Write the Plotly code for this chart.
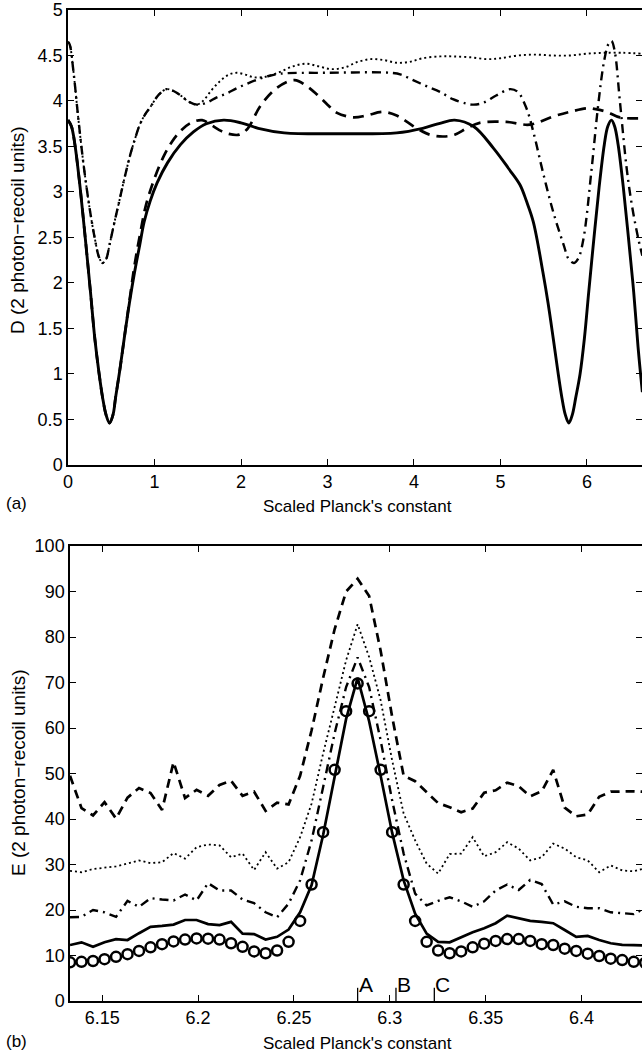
import math
import plotly.graph_objects as go

# ---------------- Panel (a) data ----------------
a_solid_x = [0, 0.04, 0.08, 0.14, 0.2, 0.26, 0.31, 0.36, 0.40, 0.44, 0.48, 0.52, 0.55, 0.60, 0.65, 0.71, 0.77,
             0.83, 0.88, 0.95, 1.03, 1.15, 1.3, 1.45, 1.6, 1.8, 2.0, 2.2, 2.5, 3.14, 3.8, 4.1, 4.3, 4.47, 4.69,
             4.92, 5.1, 5.225, 5.3, 5.38, 5.49, 5.55, 5.61, 5.66, 5.71, 5.75, 5.79, 5.83, 5.87, 5.92, 5.97,
             6.02, 6.08, 6.14, 6.2, 6.24, 6.283, 6.32, 6.36, 6.42, 6.48, 6.54, 6.59, 6.64]
a_solid_y = [3.79, 3.72, 3.52, 3.05, 2.49, 1.9, 1.39, 1.0, 0.74, 0.55, 0.46, 0.55, 0.74, 1.05, 1.39, 1.78, 2.12,
             2.42, 2.67, 2.9, 3.1, 3.32, 3.52, 3.66, 3.75, 3.79, 3.76, 3.70, 3.65, 3.64, 3.65, 3.70, 3.755, 3.79,
             3.72, 3.48, 3.25, 3.08, 2.9, 2.67, 2.12, 1.78, 1.39, 1.05, 0.74, 0.55, 0.46, 0.55, 0.74, 1.0, 1.39,
             1.9, 2.49, 3.05, 3.52, 3.72, 3.79, 3.72, 3.52, 3.05, 2.49, 1.9, 1.3, 0.8]

a_dash_x = [0, 0.04, 0.08, 0.14, 0.2, 0.26, 0.31, 0.36, 0.40, 0.44, 0.48, 0.52, 0.55, 0.60, 0.65, 0.71, 0.77,
            0.83, 0.9, 1.0, 1.1, 1.2, 1.3, 1.42, 1.55, 1.65, 1.75, 1.85, 1.98, 2.08, 2.22, 2.41, 2.62, 2.75,
            2.88, 3.0, 3.11, 3.3, 3.45, 3.64, 3.8, 3.92, 4.05, 4.18, 4.34, 4.47, 4.61, 4.76, 5.07, 5.34, 5.61,
            5.8, 6.0, 6.1, 6.23, 6.38, 6.64]
a_dash_y = [3.79, 3.72, 3.52, 3.05, 2.49, 1.9, 1.39, 1.0, 0.74, 0.55, 0.46, 0.55, 0.74, 1.05, 1.39, 1.8, 2.2,
            2.52, 2.85, 3.15, 3.38, 3.55, 3.67, 3.76, 3.79, 3.74, 3.68, 3.64, 3.63, 3.7, 3.94, 4.14, 4.23, 4.17,
            4.07, 3.96, 3.87, 3.82, 3.84, 3.88, 3.84, 3.77, 3.69, 3.63, 3.61, 3.63, 3.7, 3.76, 3.77, 3.74, 3.83,
            3.88, 3.92, 3.91, 3.88, 3.82, 3.81]

a_dashdot_x = [0, 0.02, 0.06, 0.12, 0.18, 0.25, 0.31, 0.36, 0.40, 0.44, 0.48, 0.54, 0.60, 0.66, 0.72, 0.78,
               0.83, 0.89, 0.95, 1.05, 1.14, 1.22, 1.29, 1.4, 1.49, 1.6, 1.72, 1.83, 1.95, 2.07, 2.2, 2.3, 2.45,
               3.0, 3.72, 3.85, 3.99, 4.15, 4.30, 4.45, 4.61, 4.69, 4.8, 4.95, 5.11, 5.2, 5.3, 5.38, 5.49, 5.61,
               5.73, 5.79, 5.85, 5.9, 5.96, 6.05, 6.13, 6.2, 6.25, 6.283, 6.32, 6.38, 6.46, 6.52, 6.59, 6.64]
a_dashdot_y = [4.65, 4.62, 4.35, 3.8, 3.3, 2.82, 2.49, 2.28, 2.22, 2.26, 2.42, 2.68, 2.93, 3.18, 3.41, 3.6,
               3.74, 3.85, 3.93, 4.07, 4.13, 4.11, 4.07, 3.99, 3.96, 3.98, 4.04, 4.08, 4.14, 4.19, 4.24, 4.27, 4.3,
               4.31, 4.31, 4.29, 4.23, 4.16, 4.10, 4.02, 3.97, 3.96, 3.98, 4.06, 4.13, 4.1, 3.92, 3.66, 3.22, 2.78,
               2.42, 2.26, 2.22, 2.27, 2.49, 3.22, 3.96, 4.45, 4.63, 4.66, 4.55, 4.0, 3.25, 2.85, 2.5, 2.3]

a_dot_x = [0, 0.02, 0.06, 0.12, 0.18, 0.25, 0.31, 0.36, 0.40, 0.44, 0.48, 0.54, 0.60, 0.66, 0.72, 0.78, 0.83,
           0.89, 0.95, 1.05, 1.14, 1.22, 1.29, 1.4, 1.49, 1.56, 1.66, 1.76, 1.86, 1.95, 2.05, 2.15, 2.3, 2.45,
           2.6, 2.75, 2.9, 3.05, 3.2, 3.35, 3.5, 3.65, 3.8, 3.95, 4.1, 4.3, 4.45, 4.65, 4.85, 5.0, 5.2, 5.4,
           5.6, 5.8, 6.0, 6.2, 6.4, 6.64]
a_dot_y = [4.65, 4.62, 4.35, 3.8, 3.3, 2.82, 2.49, 2.28, 2.22, 2.26, 2.42, 2.68, 2.93, 3.18, 3.41, 3.6, 3.74,
           3.85, 3.93, 4.07, 4.13, 4.11, 4.07, 3.99, 3.96, 4.0, 4.12, 4.22, 4.29, 4.31, 4.29, 4.26, 4.27, 4.32,
           4.38, 4.41, 4.38, 4.35, 4.37, 4.43, 4.46, 4.45, 4.42, 4.43, 4.47, 4.49, 4.49, 4.48, 4.46, 4.47, 4.5,
           4.51, 4.5, 4.5, 4.52, 4.53, 4.53, 4.52]

a_xticks = [0, 1, 2, 3, 4, 5, 6]
a_yticks = [0, 0.5, 1, 1.5, 2, 2.5, 3, 3.5, 4, 4.5, 5]
a_ytext = ["0", "0.5", "1", "1.5", "2", "2.5", "3", "3.5", "4", "4.5", "5"]

# ---------------- Panel (b) data ----------------
b_x0 = 2 * math.pi - 0.15
b_step = 0.006
b_n = 51
b_x = [b_x0 + b_step * i for i in range(b_n)]

b_circles = [8.5, 8.6, 8.8, 9.2, 9.7, 10.3, 11.0, 11.8, 12.5, 13.1,
             13.5, 13.75, 13.7, 13.5, 12.7, 11.9, 10.9, 10.5, 11.1, 13.0,
             17.6, 25.6, 37.1, 50.8, 63.7, 69.8, 63.7, 50.8, 37.1, 25.6,
             17.6, 13.0, 11.1, 10.5, 10.9, 11.8, 12.6, 13.2, 13.6, 13.6,
             13.2, 12.5, 12.3, 11.5, 11.0, 10.4, 9.9, 9.3, 9.0, 8.6, 8.4]
b_solid = [12.3, 12.9, 11.9, 12.9, 13.6, 13.4, 14.9, 16.3, 16.5, 16.8,
           17.8, 17.8, 16.9, 16.7, 17.4, 14.8, 14.7, 13.5, 14.1, 15.7,
           19.5, 25.5, 36.5, 49.5, 62.0, 71.0, 61.5, 49.5, 37.0, 26.5,
           19.2, 14.8, 13.0, 12.9, 14.0, 15.1, 16.0, 17.1, 18.75, 18.2,
           17.6, 17.4, 17.1, 15.6, 14.1, 14.3, 13.4, 12.7, 12.35, 12.3, 12.2]
b_dashdot = [18.4, 18.5, 20.0, 19.5, 18.5, 22.0, 20.7, 22.6, 22.3, 22.1,
             23.4, 22.1, 25.9, 24.3, 24.3, 22.3, 21.5, 19.5, 18.4, 21.4,
             26.5, 35.3, 47.0, 58.8, 69.0, 75.5, 69.0, 57.3, 44.1, 32.4,
             23.6, 21.0, 22.0, 22.8, 21.9, 20.7, 21.9, 24.3, 25.6, 24.4,
             26.6, 25.7, 21.2, 21.9, 20.7, 20.4, 20.4, 19.5, 19.3, 19.1, 20.4]
b_dotted = [28.6, 28.3, 29.0, 29.3, 29.6, 30.2, 30.9, 30.3, 30.5, 32.5,
            31.3, 33.8, 34.4, 34.2, 31.6, 32.4, 28.8, 32.7, 29.1, 30.5,
            36.0, 43.4, 54.4, 64.6, 74.9, 82.8, 75.6, 66.1, 52.9, 41.2,
            35.3, 30.2, 28.0, 32.3, 32.4, 36.0, 31.8, 32.7, 34.9, 33.5,
            30.9, 31.6, 34.6, 33.5, 31.6, 30.9, 28.3, 29.8, 28.7, 28.5, 29.2]
b_dashed = [49.5, 42.4, 40.8, 43.7, 40.1, 44.7, 46.8, 45.7, 42.0, 52.5,
            44.6, 46.4, 45.1, 47.5, 48.4, 45.1, 46.0, 41.8, 43.6, 43.2,
            49.5, 59.5, 71.0, 81.7, 90.0, 92.8, 89.0, 77.0, 62.5, 49.5,
            48.3, 45.8, 43.5, 42.6, 41.5, 42.3, 45.8, 46.3, 48.0, 47.2,
            45.0, 46.1, 50.8, 42.5, 40.6, 41.0, 44.9, 46.0, 46.1, 46.1, 46.0]

b_xticks = [6.15, 6.2, 6.25, 6.3, 6.35, 6.4]
b_xtext = ["6.15", "6.2", "6.25", "6.3", "6.35", "6.4"]
b_yticks = [0, 10, 20, 30, 40, 50, 60, 70, 80, 90, 100]

mark_labels = ["A", "B", "C"]
mark_x = [2 * math.pi, 2 * math.pi + 0.02, 2 * math.pi + 0.04]

# ---------------- Figure ----------------
FONT = "Liberation Sans, Arial, Helvetica, sans-serif"
BLACK = "#000000"

fig = go.Figure()

def add_line(x, y, xa, ya, dash, width, shape="linear"):
    fig.add_trace(go.Scatter(x=x, y=y, xaxis=xa, yaxis=ya, mode="lines",
                             line=dict(color=BLACK, width=width, dash=dash, shape=shape),
                             showlegend=False, hoverinfo="skip"))

# panel (a)
add_line(a_dot_x, a_dot_y, "x", "y", "2px,3px", 1.9, "spline")
add_line(a_dashdot_x, a_dashdot_y, "x", "y", "9px,5px,2px,5px", 2.4, "spline")
add_line(a_dash_x, a_dash_y, "x", "y", "11px,7px", 2.7, "spline")
add_line(a_solid_x, a_solid_y, "x", "y", "solid", 2.9, "spline")

# panel (b)
add_line(b_x, b_dotted, "x2", "y2", "2px,3px", 1.8)
add_line(b_x, b_dashdot, "x2", "y2", "9px,5px,2px,5px", 2.4)
add_line(b_x, b_dashed, "x2", "y2", "9px,6px", 2.7)
add_line(b_x, b_solid, "x2", "y2", "solid", 2.7)
fig.add_trace(go.Scatter(x=b_x, y=b_circles, xaxis="x2", yaxis="y2", mode="markers",
                         marker=dict(symbol="circle-open", size=10, color=BLACK,
                                     line=dict(color=BLACK, width=2.5)),
                         showlegend=False, hoverinfo="skip"))

axis_common = dict(showline=True, linecolor=BLACK, linewidth=1.5, ticks="inside", ticklen=6,
                   tickwidth=1.2, tickcolor=BLACK, showgrid=False, zeroline=False,
                   tickfont=dict(family=FONT, size=18, color=BLACK))

TOP_DOMAIN = [0.5409, 1.0]
BOT_DOMAIN = [0.0, 0.4591]

fig.update_layout(
    width=642, height=1055,
    margin=dict(l=68, r=0, t=10, b=54),
    paper_bgcolor="white", plot_bgcolor="white",
    xaxis=dict(domain=[0, 1], anchor="y", range=[0, 6.636], tickvals=a_xticks,
               ticktext=[str(v) for v in a_xticks], mirror="ticks", **axis_common),
    yaxis=dict(domain=TOP_DOMAIN, anchor="x", range=[0, 5], tickvals=a_yticks, ticktext=a_ytext,
               mirror=False, **axis_common),
    yaxis3=dict(domain=TOP_DOMAIN, anchor="x", overlaying="y", side="right", range=[0, 5],
                tickvals=a_yticks, showticklabels=False, showline=False, ticks="inside", ticklen=6,
                tickwidth=1.2, tickcolor=BLACK, showgrid=False, zeroline=False),
    xaxis2=dict(domain=[0.0035, 1], anchor="y2", range=[b_x0, 6.4315], tickvals=b_xticks,
                ticktext=b_xtext, mirror="ticks", **axis_common),
    yaxis2=dict(domain=BOT_DOMAIN, anchor="x2", range=[0, 100], tickvals=b_yticks,
                ticktext=[str(v) for v in b_yticks], mirror=False, **axis_common),
    yaxis4=dict(domain=BOT_DOMAIN, anchor="x2", overlaying="y2", side="right", range=[0, 100],
                tickvals=b_yticks, showticklabels=False, showline=False, ticks="inside", ticklen=6,
                tickwidth=1.2, tickcolor=BLACK, showgrid=False, zeroline=False),
)

# invisible traces to activate right-side tick axes
fig.add_trace(go.Scatter(x=[0], y=[0], xaxis="x", yaxis="y3", mode="markers",
                         marker=dict(opacity=0), showlegend=False, hoverinfo="skip"))
fig.add_trace(go.Scatter(x=[b_x0], y=[0], xaxis="x2", yaxis="y4", mode="markers",
                         marker=dict(opacity=0), showlegend=False, hoverinfo="skip"))

# A, B, C markers
for lab, xv in zip(mark_labels, mark_x):
    fig.add_shape(type="line", xref="x2", yref="y2", x0=xv, x1=xv, y0=0, y1=2.9,
                  line=dict(color=BLACK, width=1.3))
    fig.add_annotation(x=xv, y=3.7, xref="x2", yref="y2", text=lab, showarrow=False,
                       xanchor="left", yanchor="middle", xshift=-1,
                       font=dict(family=FONT, size=21, color=BLACK))

# axis titles and panel labels
def ann(text, x, y, size, angle=0, xanchor="center"):
    fig.add_annotation(text=text, x=x, y=y, xref="paper", yref="paper", showarrow=False,
                       textangle=angle, xanchor=xanchor, yanchor="middle",
                       font=dict(family=FONT, size=size, color=BLACK))

H_PLOT = 1055 - 10 - 54
def py(pix):
    return (1001 - pix) / H_PLOT

def px(pix):
    return (pix - 68) / 574.0

ann("Scaled Planck's constant", px(357), py(506), 17)
ann("Scaled Planck's constant", px(357), py(1043), 17)
ann("(a)", px(16), py(503), 17)
ann("(b)", px(16), py(1041), 17)
ann("D (2 photon\u2212recoil units)", px(17), py(230), 19, angle=-90)
ann("E (2 photon\u2212recoil units)", px(18), py(773), 19, angle=-90)

fig.write_html("out.html")
